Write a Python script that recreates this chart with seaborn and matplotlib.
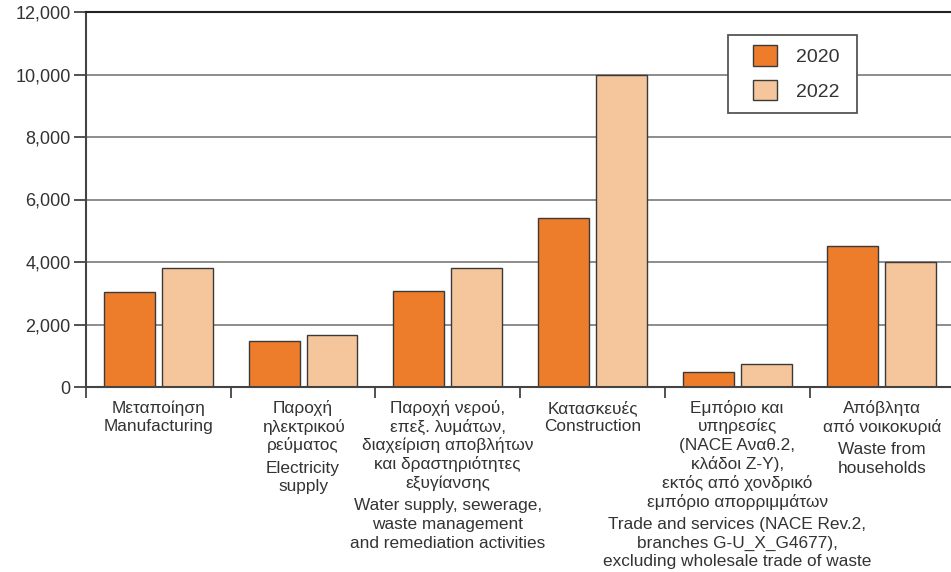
# Waste generation by economic activity, 2020 vs 2022
# grouped bar chart with bilingual (Greek / English) category labels

import matplotlib
matplotlib.use("Agg")
import matplotlib.pyplot as plt
import matplotlib.ticker as mticker
from matplotlib.patches import Rectangle
import pandas as pd
import seaborn as sns

# Data
categories = ["manuf", "elec", "water", "constr", "trade", "house"]
values_2020 = [3040, 1470, 3070, 5420, 490, 4500]
values_2022 = [3820, 1680, 3820, 10000, 750, 4000]
years = ["2020", "2022"]

greek_labels = [
    ["Μεταποίηση"],
    ["Παροχή", "ηλεκτρικού", "ρεύματος"],
    ["Παροχή νερού,", "επεξ. λυμάτων,", "διαχείριση αποβλήτων",
     "και δραστηριότητες", "εξυγίανσης"],
    ["Κατασκευές"],
    ["Εμπόριο και", "υπηρεσίες", "(NACE Αναθ.2,", "κλάδοι Ζ-Υ),",
     "εκτός από χονδρικό", "εμπόριο απορριμμάτων"],
    ["Απόβλητα", "από νοικοκυριά"],
]
english_labels = [
    ["Manufacturing"],
    ["Electricity", "supply"],
    ["Water supply, sewerage,", "waste management",
     "and remediation activities"],
    ["Construction"],
    ["Trade and services (NACE Rev.2,", "branches G-U_X_G4677),",
     "excluding wholesale trade of waste"],
    ["Waste from", "households"],
]

df = pd.DataFrame({
    "category": categories * 2,
    "year": [years[0]] * len(categories) + [years[1]] * len(categories),
    "value": values_2020 + values_2022,
})

sns.set_style("white")
plt.rcParams["font.family"] = ["Liberation Sans", "DejaVu Sans"]
text_color = "#333333"

W, H = 951, 572
fig = plt.figure(figsize=(W / 100, H / 100), dpi=100)
ax = fig.add_axes([86 / W, 185 / H, 865 / W, 375 / H])

sns.barplot(data=df, x="category", y="value", hue="year", ax=ax,
            palette=["#EE7D2B", "#F5C69B"], width=0.8, gap=0.12,
            edgecolor="#3a3a3a", linewidth=1.0, saturation=1)

# Axis limits and grid
ax.set_ylim(0, 12000)
ax.set_xlim(-0.5, -0.5 + 865 / 144.7)
ax.yaxis.set_major_locator(mticker.MultipleLocator(2000))
ax.yaxis.set_major_formatter(mticker.FuncFormatter(lambda v, p: f"{int(v):,}"))
ax.grid(axis="y", color="#6e6e6e", linewidth=1.1)
ax.set_axisbelow(True)

for side in ["top", "left", "bottom"]:
    ax.spines[side].set_visible(True)
    ax.spines[side].set_color("#444444")
    ax.spines[side].set_linewidth(1.5)
ax.spines["top"].set_color("#222222")
ax.spines["right"].set_visible(False)

ax.tick_params(axis="y", direction="out", length=9, width=1.3, color="#444444",
               labelsize=13, labelcolor=text_color, pad=2, left=True)

# x ticks at category boundaries, labels drawn separately
ax.set_xticks([i + 0.5 for i in range(len(categories) - 1)] + [-0.5])
ax.set_xticklabels([])
ax.tick_params(axis="x", direction="out", length=8, width=1.3, color="#444444",
               bottom=True)
ax.set_xlabel("")
ax.set_ylabel("")

# Bilingual category labels, one line at a time
first_line = 15.0   # points below axis
step = 13.5
block_gap = 2.9
for i, (gr, en) in enumerate(zip(greek_labels, english_labels)):
    lines = [(t, 0) for t in gr]
    extra = 0 if len(gr) == 1 else block_gap
    lines += [(t, extra) for t in en]
    for k, (txt, g) in enumerate(lines):
        ax.annotate(txt, xy=(i, 0), xycoords=("data", "axes fraction"),
                    xytext=(0, -(first_line + k * step + g)),
                    textcoords="offset points", ha="center", va="center",
                    fontsize=12.4, color=text_color, annotation_clip=False)

# Legend: entries without frame, box drawn around them
leg = ax.legend(title=None, loc="upper left",
                bbox_to_anchor=(753 / W, 1 - 45 / H),
                bbox_transform=fig.transFigure,
                fontsize=14, frameon=False,
                handlelength=1.24, handleheight=1.25, handletextpad=0.95,
                labelspacing=0.72, borderpad=0, borderaxespad=0)
for t in leg.get_texts():
    t.set_color(text_color)
leg.set_zorder(6)
ax.add_patch(Rectangle((728 / W, 1 - 113 / H), 129 / W, 78 / H,
                       transform=fig.transFigure, facecolor="white",
                       edgecolor="#555555", linewidth=1.3, zorder=5,
                       clip_on=False))

fig.savefig("out.png", dpi=100)
